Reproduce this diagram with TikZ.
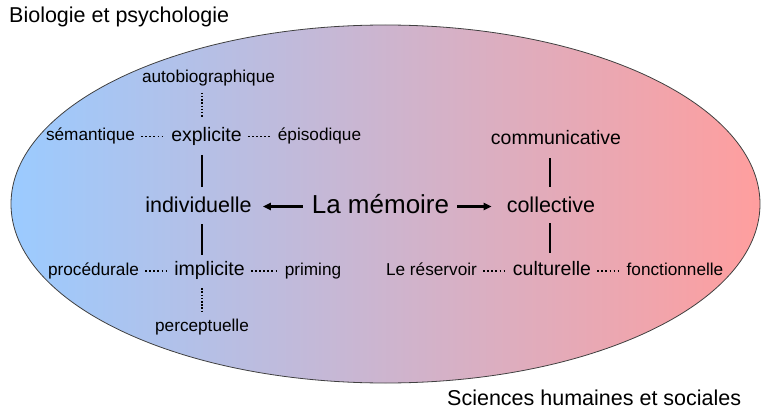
\documentclass[tikz,border=0pt]{standalone}
\usepackage{fontspec}
\setmainfont{Liberation Sans}
\usetikzlibrary{arrows.meta}
\definecolor{bioblue}{RGB}{155,203,255}
\definecolor{socred}{RGB}{255,158,158}

\begin{document}
\begin{tikzpicture}[x=1pt,y=-1pt,>={Triangle[length=8pt,width=7pt]},
  every node/.style={inner sep=0pt},
  big/.style={font=\fontsize{26}{28}\selectfont,text height=18.7pt,text depth=5.5pt},
  lvlone/.style={font=\fontsize{21.5}{24}\selectfont,text height=15.5pt,text depth=4.5pt},
  lvltwo/.style={font=\fontsize{19.5}{22}\selectfont,text height=14pt,text depth=4.1pt},
  lvlthree/.style={font=\fontsize{17.2}{20}\selectfont,text height=12.4pt,text depth=3.6pt},
  hdots/.style={line width=1.7pt,dash pattern=on 1.7pt off 2.4pt,shorten <=6pt,shorten >=6pt},
  vdots/.style={line width=1.7pt,dash pattern=on 1.5pt off 1.7pt,shorten <=6pt,shorten >=6pt},
  vlink/.style={line width=2pt,shorten <=9pt,shorten >=9pt},
  biglink/.style={line width=2.4pt,->}]
\useasboundingbox (0,0) rectangle (768,417);
\draw[left color=bioblue,right color=socred,draw=gray!50!black,line width=0.8pt]
  (385.5,204) ellipse [x radius=374.5,y radius=179];

\node[lvlone,anchor=base west] (bio) at (9,23) {Biologie et psychologie};
\node[lvlone,anchor=base west] (shs) at (447,405) {Sciences humaines et sociales};

% individuelle side
\node[lvlthree] (autobio) at (208.5,78.6) {autobiographique};
\node[lvlthree] (sem) at (90.5,136.5) {sémantique};
\node[lvltwo] (expl) at (206.5,136.5) {explicite};
\node[lvlthree] (epi) at (319.5,136.5) {épisodique};
\node[lvlone] (indiv) at (198.5,206.5) {individuelle};
\node[lvlthree] (proc) at (93.5,271) {procédurale};
\node[lvltwo] (impl) at (209.5,271) {implicite};
\node[lvlthree] (prim) at (313,271) {priming};
\node[lvlthree] (perc) at (202,326.6) {perceptuelle};

\node[big] (mem) at (380.5,206.5) {La mémoire};

% collective side
\node[lvltwo] (comm) at (556,140) {communicative};
\node[lvlone] (coll) at (551,206.5) {collective};
\node[lvlthree] (res) at (431.5,271) {Le réservoir};
\node[lvltwo] (cult) at (552,271) {culturelle};
\node[lvlthree] (fonc) at (675,271) {fonctionnelle};

\coordinate (spineL) at (202,0);
\coordinate (spineR) at (550,0);

\draw[vdots,shorten >=10pt] (autobio.south -| spineL) -- (expl.north -| spineL);
\draw[hdots] (sem.east) -- (expl.west);
\draw[hdots] (expl.east) -- (epi.west);
\draw[vlink] (expl.south -| spineL) -- (indiv.north -| spineL);
\draw[vlink,shorten <=7.5pt,shorten >=7pt] (indiv.south -| spineL) -- (impl.north -| spineL);
\draw[hdots] (proc.east) -- (impl.west);
\draw[hdots] (impl.east) -- (prim.west);
\draw[vdots,shorten <=8pt] (impl.south -| spineL) -- (perc.north -| spineL);

\draw[biglink,shorten <=9pt,shorten >=11pt] (mem.west) -- (indiv.east);
\draw[biglink,shorten <=8pt,shorten >=15pt] (mem.east) -- (coll.west);

\draw[vlink] (comm.south -| spineR) -- (coll.north -| spineR);
\draw[vlink,shorten <=6.5pt] (coll.south -| spineR) -- (cult.north -| spineR);
\draw[hdots] (res.east) -- (cult.west);
\draw[hdots] (cult.east) -- (fonc.west);
\end{tikzpicture}
\end{document}
